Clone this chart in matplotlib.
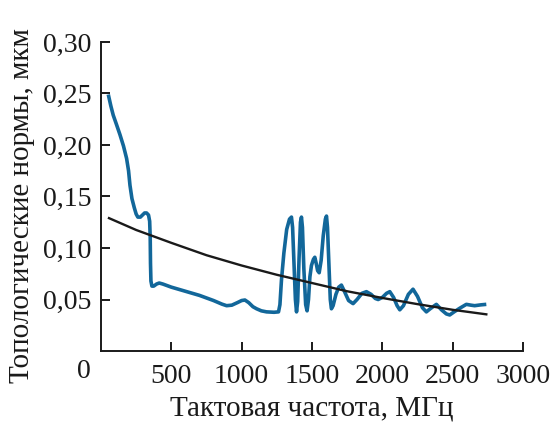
import matplotlib
matplotlib.use("Agg")
import matplotlib.pyplot as plt

freq_mhz = [52, 70, 87, 110, 135, 160, 182, 196, 206, 220, 237, 250, 262, 280,
            295, 310, 324, 338, 346, 350, 352, 355, 362, 375, 395, 414, 440,
            500, 600, 700, 800, 860, 893, 930, 970, 1000, 1023, 1050, 1080,
            1106, 1140, 1177, 1230, 1262, 1272, 1283, 1300, 1320, 1340, 1354,
            1362, 1372, 1382, 1390, 1398, 1408, 1418, 1425, 1432, 1442, 1455,
            1465, 1475, 1485, 1496, 1510, 1520, 1530, 1540, 1551, 1565, 1580,
            1595, 1603, 1610, 1620, 1630, 1638, 1650, 1670, 1690, 1709, 1730,
            1760, 1792, 1820, 1855, 1887, 1920, 1950, 1970, 2000, 2030, 2053,
            2080, 2105, 2124, 2150, 2185, 2218, 2250, 2285, 2313, 2340, 2384,
            2420, 2455, 2479, 2510, 2550, 2597, 2630, 2656, 2700, 2739]
norm_um = [0.249, 0.238, 0.229, 0.220, 0.210, 0.199, 0.187, 0.175, 0.161, 0.148,
           0.139, 0.133, 0.130, 0.130, 0.132, 0.134, 0.134, 0.132, 0.126, 0.110,
           0.085, 0.068, 0.063, 0.063, 0.065, 0.066, 0.065, 0.062, 0.058, 0.054,
           0.049, 0.0455, 0.044, 0.0445, 0.047, 0.049, 0.0495, 0.047, 0.043,
           0.041, 0.039, 0.038, 0.0376, 0.038, 0.045, 0.069, 0.095, 0.118, 0.128,
           0.130, 0.120, 0.085, 0.050, 0.038, 0.048, 0.090, 0.125, 0.130, 0.120,
           0.080, 0.045, 0.039, 0.050, 0.072, 0.083, 0.089, 0.091, 0.085, 0.078,
           0.076, 0.088, 0.112, 0.128, 0.131, 0.120, 0.085, 0.050, 0.041, 0.044,
           0.055, 0.062, 0.064, 0.058, 0.049, 0.046, 0.050, 0.056, 0.0576, 0.055,
           0.051, 0.050, 0.052, 0.056, 0.0576, 0.052, 0.044, 0.040, 0.044, 0.055,
           0.060, 0.053, 0.042, 0.038, 0.041, 0.0453, 0.040, 0.036, 0.035, 0.038,
           0.0415, 0.0453, 0.0445, 0.044, 0.0448, 0.0453]

# trend line (black)
trend_freq = [57, 250, 500, 750, 1000, 1250, 1500, 1750, 2000, 2250, 2500, 2739]
trend_norm = [0.129, 0.1175, 0.105, 0.093, 0.083, 0.074, 0.066, 0.058, 0.0515,
              0.0455, 0.040, 0.0356]

x_ticks = [500, 1000, 1500, 2000, 2500, 3000]
y_ticks = [0.05, 0.10, 0.15, 0.20, 0.25, 0.30]
y_tick_labels = ["0,05", "0,10", "0,15", "0,20", "0,25", "0,30"]

plt.rcParams["font.family"] = ["Liberation Serif", "DejaVu Serif"]

fig = plt.figure(figsize=(5.53, 4.25), dpi=100)
ax = fig.add_axes([0.1826, 0.1741, 0.7632, 0.7271])

ax.plot(freq_mhz, norm_um, color="#12679a", lw=2.6, solid_joinstyle="round",
        solid_capstyle="butt")
ax.plot(trend_freq, trend_norm, color="#1a1a1a", lw=1.7)

ax.set_xlim(0, 3000)
ax.set_ylim(0, 0.30)
ax.set_xticks(x_ticks)
ax.set_xticklabels([str(v) for v in x_ticks])
ax.set_yticks(y_ticks)
ax.set_yticklabels(y_tick_labels)

for side in ["top", "right"]:
    ax.spines[side].set_visible(False)
for side in ["left", "bottom"]:
    ax.spines[side].set_linewidth(1.4)
    ax.spines[side].set_color("#1a1a1a")

ax.tick_params(direction="in", length=6.5, width=1.4, color="#1a1a1a",
               labelsize=20, labelcolor="#1a1a1a")
ax.tick_params(axis="x", pad=9)
ax.tick_params(axis="y", pad=7)

ax.annotate("0", xy=(0, 0), xytext=(-12, -15), textcoords="offset points",
            ha="center", va="center", fontsize=20, color="#1a1a1a",
            annotation_clip=False)

ax.set_xlabel("Тактовая частота, МГц", fontsize=21, color="#1a1a1a", labelpad=5)
ax.set_ylabel("Топологические нормы, мкм", fontsize=21, color="#1a1a1a",
              va="center")
ax.yaxis.set_label_coords(-0.187, 0.47)

fig.savefig("out.png", dpi=100)
